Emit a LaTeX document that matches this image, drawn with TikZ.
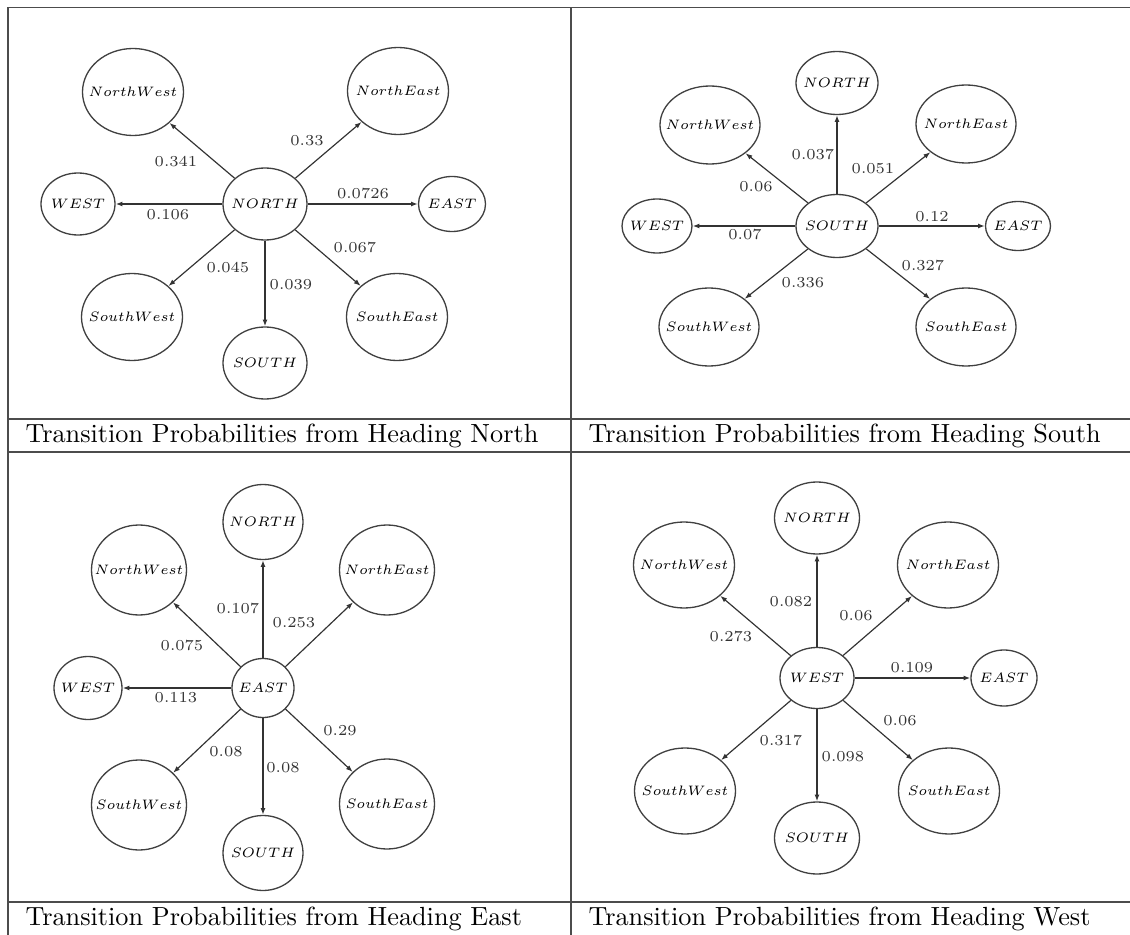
\documentclass[tikz,border=0pt]{standalone}
\usepackage{graphicx}
\usepackage{tikz}
\usetikzlibrary{arrows.meta, shapes.geometric}
\newcommand{\px}{0.381pt}
\newcommand{\gfont}{\fontsize{5.8}{7}\selectfont}
\newcommand{\hd}[1]{\scalebox{0.87}{$#1$}}

\begin{document}
\begin{tikzpicture}[
    x=\px, y=-\px,
    sz/.style 2 args={minimum width=#1*\px, minimum height=#2*\px},
    state/.style={ellipse, draw=black!75, line width=0.5pt, inner xsep=-12pt, inner ysep=0pt, font=\gfont},
    prob/.style={font=\gfont, inner sep=0pt},
    arr/.style={-{Latex[length=2.6pt, width=1.9pt]}, line width=0.45pt, black!80},
    captext/.style={anchor=base west, inner sep=0pt},
    rule/.style={line width=0.6pt, black!70},
]
    \useasboundingbox (0,0) rectangle (1130,935);

    % Table rules
    \draw[rule] (8,7.5) -- (1130,7.5);
    \draw[rule] (8,419) -- (1130,419);
    \draw[rule] (8,452) -- (1130,452);
    \draw[rule] (8,902) -- (1130,902);
    \draw[rule] (8,7.5) -- (8,935);
    \draw[rule] (571,7.5) -- (571,935);

    % Heading North
    \begin{scope}[diagst/.style={state, sz={101}{87}}, vertst/.style={state, sz={84}{72}},
                  westst/.style={state, sz={74}{62}}, eastst/.style={state, sz={67}{55}}]
        \node[vertst] (nC) at (265,204) {\hd{NORTH}};
        \node[diagst] (nNW) at (133,92) {\hd{NorthWest}};
        \node[diagst] (nNE) at (398,91) {\hd{NorthEast}};
        \node[westst] (nW) at (78,204) {\hd{WEST}};
        \node[eastst] (nE) at (452,204) {\hd{EAST}};
        \node[diagst] (nSW) at (132,317) {\hd{SouthWest}};
        \node[diagst] (nSE) at (397,317) {\hd{SouthEast}};
        \node[vertst] (nS) at (265,363) {\hd{SOUTH}};

        \draw[arr] (nC) -- (nNW) node[prob] (nPnw) at (176,162) {0.341};
        \draw[arr] (nC) -- (nNE) node[prob] (nPne) at (307,141) {0.33};
        \draw[arr] (nC) -- (nW) node[prob] (nPw) at (168,215) {0.106};
        \draw[arr] (nC) -- (nE) node[prob] (nPe) at (363,194) {0.0726};
        \draw[arr] (nC) -- (nSE) node[prob] (nPse) at (355,248) {0.067};
        \draw[arr] (nC) -- (nSW) node[prob] (nPsw) at (228,268) {0.045};
        \draw[arr] (nC) -- (nS) node[prob] (nPs) at (291,285) {0.039};
    \end{scope}

    % Heading South
    \begin{scope}[diagst/.style={state, sz={100}{78}}, vertst/.style={state, sz={82}{63}},
                  westst/.style={state, sz={70}{54}}, eastst/.style={state, sz={65}{49}}]
        \node[vertst] (sC) at (837,226) {\hd{SOUTH}};
        \node[vertst] (sN) at (837,83) {\hd{NORTH}};
        \node[diagst] (sNW) at (710,125) {\hd{NorthWest}};
        \node[diagst] (sNE) at (966,124) {\hd{NorthEast}};
        \node[westst] (sW) at (657,226) {\hd{WEST}};
        \node[eastst] (sE) at (1018,226) {\hd{EAST}};
        \node[diagst] (sSW) at (709,327) {\hd{SouthWest}};
        \node[diagst] (sSE) at (966,327) {\hd{SouthEast}};

        \draw[arr] (sC) -- (sN) node[prob] (sPn) at (813,155) {0.037};
        \draw[arr] (sC) -- (sNE) node[prob] (sPne) at (873,169) {0.051};
        \draw[arr] (sC) -- (sNW) node[prob] (sPnw) at (756,187) {0.06};
        \draw[arr] (sC) -- (sE) node[prob] (sPe) at (932,217) {0.12};
        \draw[arr] (sC) -- (sW) node[prob] (sPw) at (745,235) {0.07};
        \draw[arr] (sC) -- (sSE) node[prob] (sPse) at (923,266) {0.327};
        \draw[arr] (sC) -- (sSW) node[prob] (sPsw) at (803,283) {0.336};
    \end{scope}

    % Heading East
    \begin{scope}[diagst/.style={state, sz={95}{90}}, vertst/.style={state, sz={80}{75}},
                  westst/.style={state, sz={68}{63}}, eastst/.style={state, sz={62}{59}}]
        \node[eastst] (eC) at (263,688) {\hd{EAST}};
        \node[vertst] (eN) at (263,522) {\hd{NORTH}};
        \node[diagst] (eNW) at (139,570) {\hd{NorthWest}};
        \node[diagst] (eNE) at (387,570) {\hd{NorthEast}};
        \node[westst] (eW) at (88,688) {\hd{WEST}};
        \node[diagst] (eSW) at (139,805) {\hd{SouthWest}};
        \node[diagst] (eSE) at (387,804) {\hd{SouthEast}};
        \node[vertst] (eS) at (263,853) {\hd{SOUTH}};

        \draw[arr] (eC) -- (eN) node[prob] (ePn) at (238,609) {0.107};
        \draw[arr] (eC) -- (eNE) node[prob] (ePne) at (294,623) {0.253};
        \draw[arr] (eC) -- (eNW) node[prob] (ePnw) at (182,646) {0.075};
        \draw[arr] (eC) -- (eW) node[prob] (ePw) at (176,698) {0.113};
        \draw[arr] (eC) -- (eSE) node[prob] (ePse) at (340,731) {0.29};
        \draw[arr] (eC) -- (eSW) node[prob] (ePsw) at (226,752) {0.08};
        \draw[arr] (eC) -- (eS) node[prob] (ePs) at (283,768) {0.08};
    \end{scope}

    % Heading West
    \begin{scope}[diagst/.style={state, sz={101}{86}}, vertst/.style={state, sz={85}{72}},
                  westst/.style={state, sz={74}{61}}, eastst/.style={state, sz={66}{56}}]
        \node[westst] (wC) at (817,678) {\hd{WEST}};
        \node[vertst] (wN) at (817,518) {\hd{NORTH}};
        \node[diagst] (wNW) at (684,565) {\hd{NorthWest}};
        \node[diagst] (wNE) at (948,565) {\hd{NorthEast}};
        \node[eastst] (wE) at (1004,678) {\hd{EAST}};
        \node[diagst] (wSW) at (685,791) {\hd{SouthWest}};
        \node[diagst] (wSE) at (949,791) {\hd{SouthEast}};
        \node[vertst] (wS) at (817,838) {\hd{SOUTH}};

        \draw[arr] (wC) -- (wN) node[prob] (wPn) at (791,602) {0.082};
        \draw[arr] (wC) -- (wNE) node[prob] (wPne) at (856,616) {0.06};
        \draw[arr] (wC) -- (wNW) node[prob] (wPnw) at (731,637) {0.273};
        \draw[arr] (wC) -- (wE) node[prob] (wPe) at (912,668) {0.109};
        \draw[arr] (wC) -- (wSE) node[prob] (wPse) at (900,721) {0.06};
        \draw[arr] (wC) -- (wSW) node[prob] (wPsw) at (781,741) {0.317};
        \draw[arr] (wC) -- (wS) node[prob] (wPs) at (843,757) {0.098};
    \end{scope}

    % Captions
    \node[captext] (capN) at (25,442) {Transition Probabilities from Heading North};
    \node[captext] (capS) at (588,442) {Transition Probabilities from Heading South};
    \node[captext] (capE) at (25,925) {Transition Probabilities from Heading East};
    \node[captext] (capW) at (588,925) {Transition Probabilities from Heading West};
\end{tikzpicture}
\end{document}
